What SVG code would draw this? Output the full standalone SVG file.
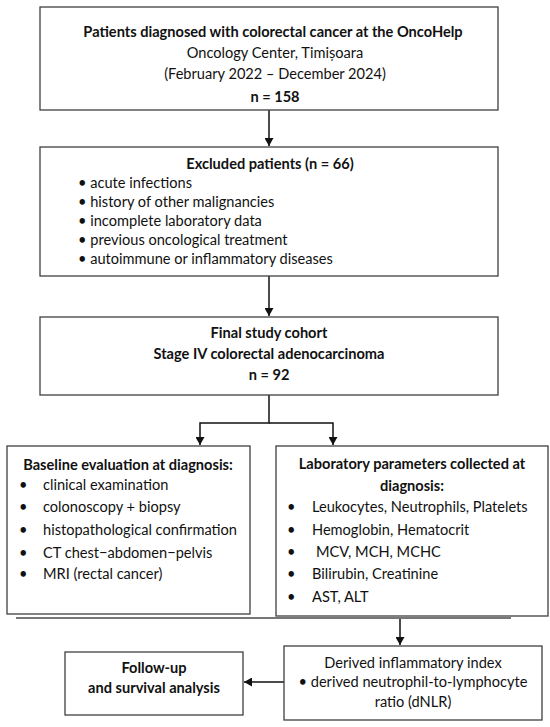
<svg xmlns="http://www.w3.org/2000/svg" width="550" height="727" viewBox="0 0 550 727">
<style>
.box{fill:#fff;stroke:#404040;stroke-width:1.3}
text{font-family:Lato,"Liberation Sans",sans-serif;font-size:14.6px;fill:#111}
.b{font-weight:bold}
.c{text-anchor:middle}
.ln{stroke:#111;stroke-width:1.5;fill:none}
</style>
<defs>
<marker id="ah" viewBox="0 0 8 9" refX="8" refY="4.5" markerWidth="8" markerHeight="9" markerUnits="userSpaceOnUse" orient="auto">
<path d="M0,0 L8,4.5 L0,9 Z" fill="#111"/>
</marker>
</defs>
<rect width="550" height="727" fill="#fff"/>
<g id="connectors">
<line class="ln" x1="269" y1="110" x2="269" y2="146" marker-end="url(#ah)"/>
<line class="ln" x1="269" y1="276" x2="269" y2="316" marker-end="url(#ah)"/>
<polyline class="ln" points="269,395 269,423 200,423 200,445" marker-end="url(#ah)"/>
<polyline class="ln" points="269,423 333,423 333,445" marker-end="url(#ah)"/>
<line class="ln" x1="400" y1="617" x2="400" y2="645" marker-end="url(#ah)"/>
<line class="ln" x1="284" y1="682" x2="244" y2="682" marker-end="url(#ah)"/>
</g>
<g id="n1">
<rect class="box" x="40" y="7" width="458" height="103"/>
<text class="b c" x="273" y="37">Patients diagnosed with colorectal cancer at the OncoHelp</text>
<text class="c" x="275" y="58">Oncology Center, Timișoara</text>
<text class="c" x="275" y="79">(February 2022 – December 2024)</text>
<text class="b c" x="275" y="102">n = 158</text>
</g>
<g id="n2">
<rect class="box" x="40" y="147" width="458" height="129"/>
<text class="b c" x="270" y="169">Excluded patients (n = 66)</text>
<text x="78" y="188">• acute infections</text>
<text x="78" y="207">• history of other malignancies</text>
<text x="78" y="226">• incomplete laboratory data</text>
<text x="78" y="245">• previous oncological treatment</text>
<text x="78" y="264">• autoimmune or inflammatory diseases</text>
</g>
<g id="n3">
<rect class="box" x="40" y="317" width="458" height="78"/>
<text class="b c" x="269" y="338">Final study cohort</text>
<text class="b c" x="269" y="359">Stage IV colorectal adenocarcinoma</text>
<text class="b c" x="269" y="380">n = 92</text>
</g>
<g id="n4">
<rect class="box" x="7" y="446" width="243" height="168"/>
<text class="b c" x="128" y="470">Baseline evaluation at diagnosis:</text>
<text x="19" y="490">•</text><text x="43" y="490">clinical examination</text>
<text x="19" y="512">•</text><text x="43" y="512">colonoscopy + biopsy</text>
<text x="19" y="535">•</text><text x="43" y="535">histopathological confirmation</text>
<text x="19" y="558">•</text><text x="43" y="558">CT chest−abdomen−pelvis</text>
<text x="19" y="579">•</text><text x="43" y="579">MRI (rectal cancer)</text>
</g>
<g id="n5">
<rect class="box" x="276" y="446" width="272" height="170"/>
<text class="b c" x="412" y="469">Laboratory parameters collected at</text>
<text class="b c" x="412" y="491">diagnosis:</text>
<text x="287" y="512">•</text><text x="312" y="512">Leukocytes, Neutrophils, Platelets</text>
<text x="287" y="535">•</text><text x="312" y="535">Hemoglobin, Hematocrit</text>
<text x="287" y="557">•</text><text x="316" y="557">MCV, MCH, MCHC</text>
<text x="287" y="579">•</text><text x="312" y="579">Bilirubin, Creatinine</text>
<text x="287" y="602">•</text><text x="312" y="602">AST, ALT</text>
</g>
<line x1="16" y1="618" x2="511" y2="618" stroke="#777" stroke-width="2"/>
<g id="n6">
<rect class="box" x="284" y="646" width="258" height="74"/>
<text class="c" x="413" y="668">Derived inflammatory index</text>
<text class="c" x="413" y="687">• derived neutrophil-to-lymphocyte</text>
<text class="c" x="413" y="707">ratio (dNLR)</text>
</g>
<g id="n7">
<rect class="box" x="65" y="652" width="178" height="63"/>
<text class="b c" x="154" y="673">Follow-up</text>
<text class="b c" x="154" y="693">and survival analysis</text>
</g>
</svg>
